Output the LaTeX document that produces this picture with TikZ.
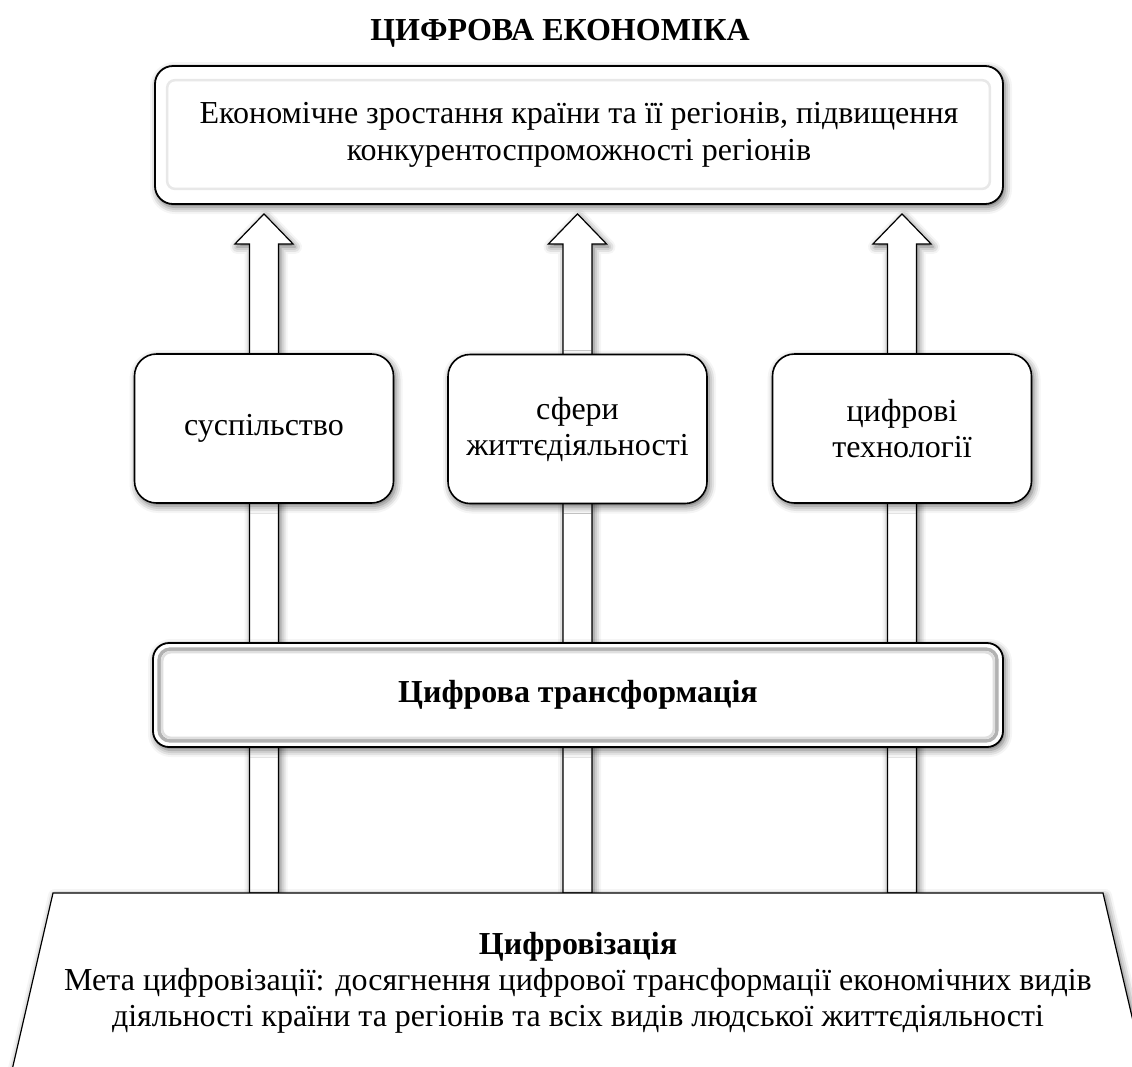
\documentclass[tikz,border=0pt]{standalone}
\usepackage{fontspec}
\setmainfont{Liberation Serif}
\usetikzlibrary{calc,shadows.blur,backgrounds}
\begin{document}
\begin{tikzpicture}[x=1pt,y=-1pt,
  soft/.style={blur shadow={shadow xshift=2pt,shadow yshift=-3pt,shadow blur radius=7pt,shadow opacity=60}},
  txt/.style={font=\fontsize{32}{36}\selectfont, align=center},
  topbox/.style={txt, draw, line width=1.8pt, rounded corners=18pt, fill=white, soft, minimum width=848, minimum height=138},
  card/.style={txt, draw, line width=1.6pt, rounded corners=22pt, fill=white, soft, minimum width=259, minimum height=149},
  transbox/.style={txt, draw, line width=1.8pt, rounded corners=16pt, fill=white, soft, minimum width=850, minimum height=104},
  blockarrow/.style={draw, line width=1.2pt, fill=white, soft},
  trap/.style={draw, line width=1.2pt, fill=white, soft}]
\useasboundingbox (0,0) rectangle (1132,1066);
\clip (0,0) rectangle (1132,1066);

\node[txt, font=\fontsize{32}{36}\selectfont\bfseries] (title) at (560,33) {ЦИФРОВА ЕКОНОМІКА};

\node[topbox] (top) at (579,135) {Економічне зростання країни та її регіонів, підвищення\\[1pt]конкурентоспроможності регіонів};
\draw[gray!18, line width=2.5pt, rounded corners=8pt] ($(top.north west)+(13,15)$) rectangle ($(top.south east)+(-14,-16)$);

\node[card] (s1) at (264,428.5) {суспільство};
\node[card] (s2) at (577.5,429) {сфери\\життєдіяльності};
\node[card] (s3) at (902,428.5) {цифрові\\технології};

\node[transbox] (tr) at (578,695) {\bfseries Цифрова трансформація};
\draw[gray!60, line width=3.5pt, rounded corners=11pt] ($(tr.north west)+(7,7)$) rectangle ($(tr.south east)+(-7,-7)$);
\draw[gray!25, line width=2.5pt, rounded corners=9pt] ($(tr.north west)+(10,10)$) rectangle ($(tr.south east)+(-10,-10)$);

\coordinate (dtl) at (53,893);
\coordinate (dtr) at (1103,893);
\draw[trap] (dtl) -- (dtr) -- (1175,1200) -- (-18,1200) -- cycle;
\node[txt] (dig) at (578,983) {\textbf{Цифровізація}\\Мета цифровізації: досягнення цифрової трансформації економічних видів\\діяльності країни та регіонів та всіх видів людської життєдіяльності};

\begin{scope}[on background layer]
\foreach \c in {s1,s2,s3}{
  \coordinate (t) at ($(\c |- top.south)+(0,9)$);
  \coordinate (b) at (\c |- dtl);
  \draw[blockarrow] ($(b)+(-14.5,0)$) -- ($(t)+(-14.5,30)$) -- ($(t)+(-29,30)$) -- (t) -- ($(t)+(29,30)$) -- ($(t)+(14.5,30)$) -- ($(b)+(14.5,0)$) -- cycle;
}
\end{scope}
\end{tikzpicture}
\end{document}
